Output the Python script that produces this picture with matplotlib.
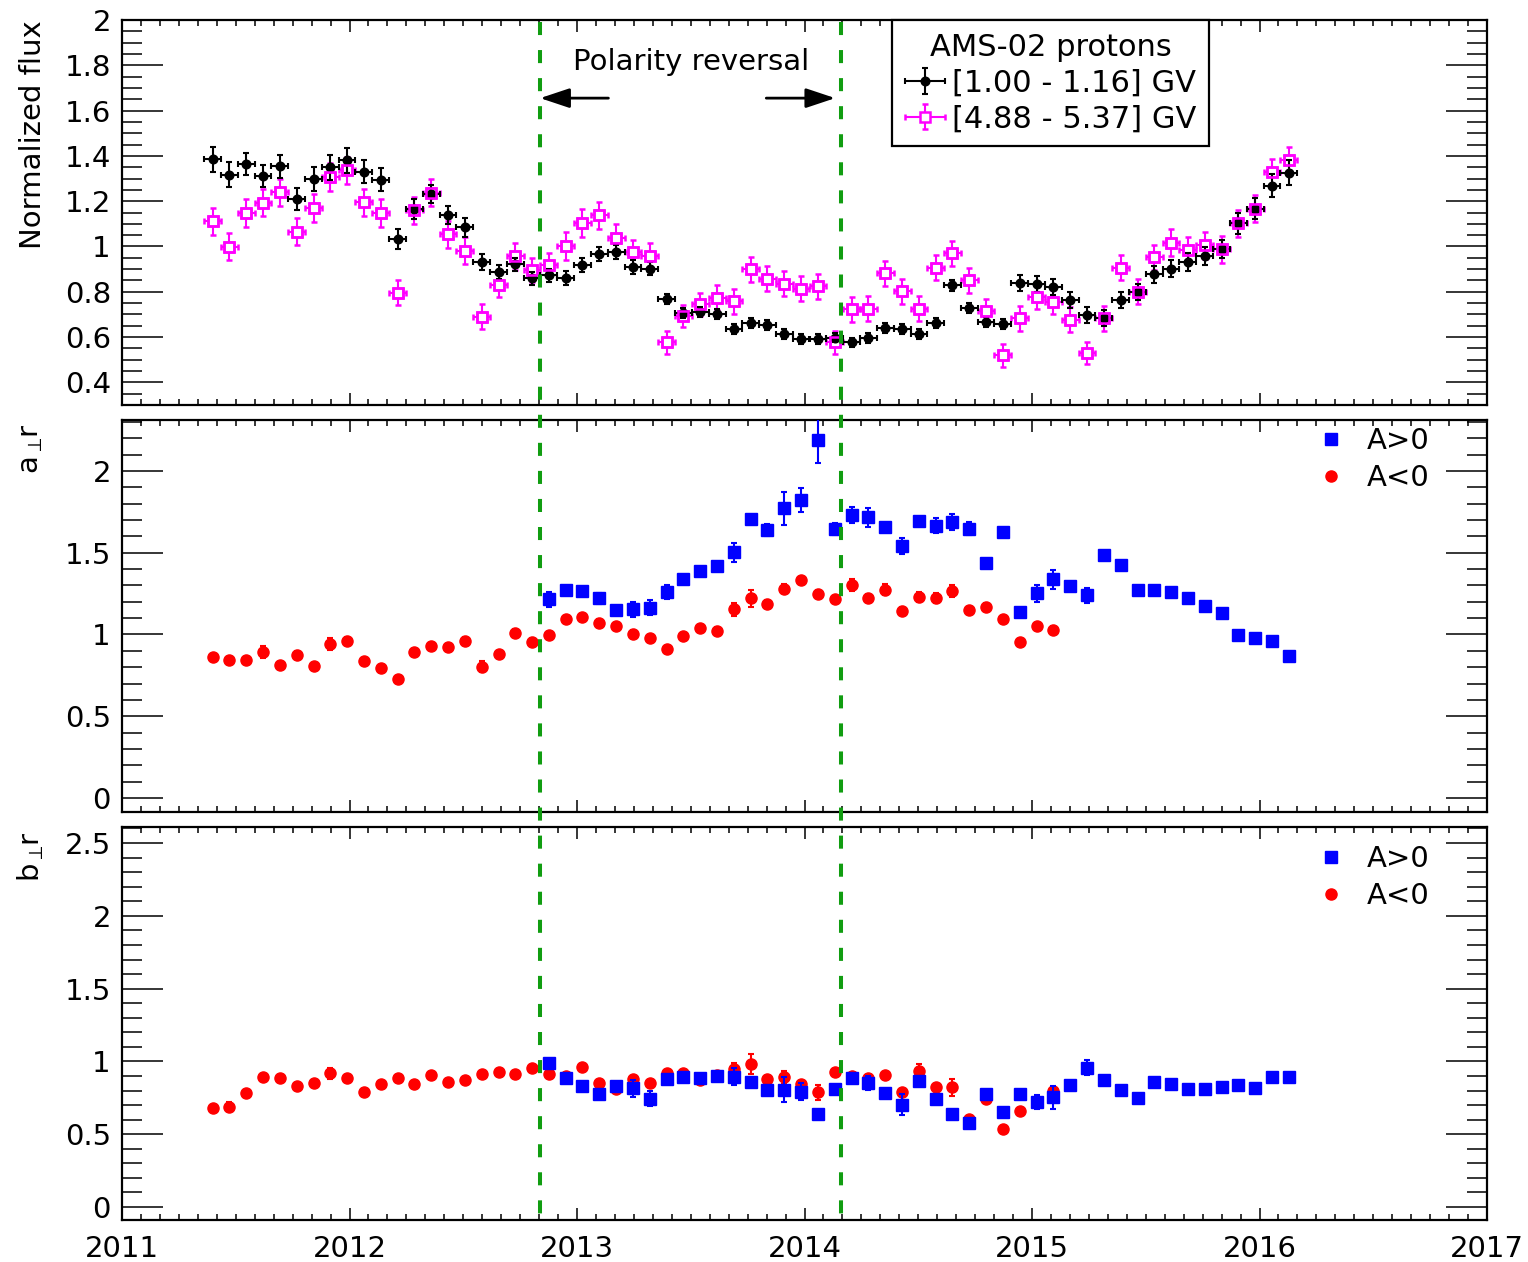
import matplotlib
matplotlib.use('Agg')
import matplotlib.pyplot as plt
from matplotlib.ticker import MultipleLocator, FuncFormatter
from matplotlib.legend_handler import HandlerErrorbar
from matplotlib.container import ErrorbarContainer
from matplotlib.transforms import blended_transform_factory
from matplotlib.lines import Line2D

plt.rcParams['font.family'] = ['DejaVu Sans']
plt.rcParams['mathtext.fontset'] = 'dejavusans'
plt.rcParams['lines.scale_dashes'] = False

# ---------------- data ----------------
# Bartels-rotation mid times (decimal year)
time = [2011.398, 2011.472, 2011.546, 2011.620, 2011.694, 2011.768, 2011.842, 2011.915,
        2011.989, 2012.063, 2012.137, 2012.211, 2012.285, 2012.359, 2012.433, 2012.507,
        2012.581, 2012.655, 2012.729, 2012.802, 2012.876, 2012.950, 2013.024, 2013.098,
        2013.172, 2013.246, 2013.320, 2013.394, 2013.468, 2013.542, 2013.616, 2013.690,
        2013.763, 2013.837, 2013.911, 2013.985, 2014.059, 2014.133, 2014.207, 2014.281,
        2014.355, 2014.429, 2014.503, 2014.577, 2014.650, 2014.724, 2014.798, 2014.872,
        2014.946, 2015.020, 2015.094, 2015.168, 2015.242, 2015.316, 2015.390, 2015.464,
        2015.538, 2015.611, 2015.685, 2015.759, 2015.833, 2015.907, 2015.981, 2016.055,
        2016.129]
bin_half_width = 13.5 / 365.25  # half of a 27-day Bartels rotation, in years

flux_low = [1.386, 1.317, 1.364, 1.311, 1.354, 1.210, 1.298, 1.349, 1.380, 1.330,
            1.295, 1.034, 1.166, 1.233, 1.138, 1.084, 0.933, 0.887, 0.921, 0.859,
            0.872, 0.862, 0.918, 0.968, 0.975, 0.909, 0.902, 0.770, 0.708, 0.711,
            0.700, 0.637, 0.664, 0.653, 0.612, 0.590, 0.590, 0.598, 0.576, 0.595,
            0.642, 0.634, 0.612, 0.664, 0.828, 0.730, 0.667, 0.659, 0.837, 0.833,
            0.821, 0.764, 0.698, 0.683, 0.764, 0.800, 0.877, 0.902, 0.931, 0.957,
            0.987, 1.102, 1.167, 1.269, 1.325]
flux_low_err = [0.055, 0.055, 0.050, 0.050, 0.050, 0.050, 0.055, 0.055, 0.055, 0.050,
                0.050, 0.045, 0.045, 0.040, 0.040, 0.040, 0.035, 0.030, 0.030, 0.030,
                0.030, 0.030, 0.030, 0.030, 0.030, 0.030, 0.030, 0.022, 0.022, 0.022,
                0.022, 0.022, 0.022, 0.022, 0.022, 0.022, 0.022, 0.022, 0.022, 0.022,
                0.022, 0.022, 0.022, 0.022, 0.025, 0.022, 0.022, 0.022, 0.035, 0.035,
                0.035, 0.035, 0.035, 0.035, 0.035, 0.035, 0.038, 0.038, 0.040, 0.040,
                0.040, 0.045, 0.045, 0.050, 0.055]
flux_high = [1.111, 0.999, 1.148, 1.193, 1.240, 1.065, 1.170, 1.307, 1.336, 1.195,
             1.148, 0.796, 1.160, 1.237, 1.053, 0.982, 0.689, 0.831, 0.957, 0.896,
             0.918, 1.002, 1.104, 1.137, 1.038, 0.975, 0.960, 0.576, 0.693, 0.745,
             0.774, 0.759, 0.899, 0.858, 0.836, 0.814, 0.825, 0.576, 0.722, 0.726,
             0.881, 0.803, 0.726, 0.906, 0.969, 0.851, 0.715, 0.520, 0.682, 0.777,
             0.755, 0.676, 0.529, 0.683, 0.906, 0.800, 0.953, 1.016, 0.984, 1.006,
             0.987, 1.102, 1.167, 1.327, 1.380]
flux_high_err = [0.060, 0.060, 0.060, 0.060, 0.060, 0.060, 0.060, 0.060, 0.060, 0.060,
                 0.060, 0.055, 0.060, 0.060, 0.060, 0.060, 0.055, 0.055, 0.060, 0.055,
                 0.055, 0.060, 0.060, 0.060, 0.060, 0.055, 0.055, 0.050, 0.050, 0.050,
                 0.055, 0.055, 0.055, 0.055, 0.055, 0.055, 0.055, 0.050, 0.055, 0.055,
                 0.055, 0.055, 0.055, 0.055, 0.055, 0.055, 0.055, 0.050, 0.055, 0.055,
                 0.055, 0.055, 0.050, 0.055, 0.055, 0.055, 0.055, 0.060, 0.060, 0.060,
                 0.060, 0.060, 0.060, 0.060, 0.060]

# a_perp_r : A<0 for rotations 0..50, A>0 for rotations 20..64
a_neg = [0.862, 0.841, 0.844, 0.894, 0.813, 0.875, 0.807, 0.942, 0.962, 0.835,
         0.793, 0.725, 0.891, 0.930, 0.924, 0.962, 0.804, 0.878, 1.011, 0.956,
         0.997, 1.092, 1.107, 1.072, 1.050, 1.005, 0.979, 0.911, 0.992, 1.040,
         1.024, 1.153, 1.221, 1.188, 1.281, 1.334, 1.250, 1.217, 1.303, 1.226,
         1.275, 1.146, 1.229, 1.223, 1.266, 1.150, 1.171, 1.093, 0.953, 1.053,
         1.029]
a_neg_err = [0.020, 0.020, 0.020, 0.035, 0.020, 0.025, 0.020, 0.035, 0.020, 0.020,
             0.020, 0.020, 0.020, 0.020, 0.020, 0.020, 0.035, 0.020, 0.020, 0.020,
             0.020, 0.020, 0.020, 0.020, 0.020, 0.020, 0.020, 0.020, 0.020, 0.020,
             0.020, 0.040, 0.050, 0.020, 0.030, 0.020, 0.020, 0.020, 0.035, 0.020,
             0.035, 0.020, 0.030, 0.030, 0.035, 0.020, 0.020, 0.020, 0.020, 0.020,
             0.020]
a_pos = [1.214, 1.275, 1.264, 1.221, 1.150, 1.153, 1.164, 1.261, 1.339, 1.388,
         1.419, 1.502, 1.706, 1.639, 1.771, 1.820, 2.190, 1.645, 1.733, 1.716,
         1.659, 1.541, 1.696, 1.666, 1.686, 1.648, 1.439, 1.629, 1.140, 1.252,
         1.339, 1.294, 1.239, 1.486, 1.425, 1.269, 1.269, 1.261, 1.224, 1.175,
         1.131, 0.995, 0.977, 0.960, 0.870]
a_pos_err = [0.048, 0.020, 0.020, 0.035, 0.020, 0.046, 0.046, 0.044, 0.020, 0.020,
             0.020, 0.056, 0.020, 0.037, 0.100, 0.073, 0.140, 0.038, 0.049, 0.056,
             0.020, 0.049, 0.020, 0.048, 0.048, 0.038, 0.020, 0.020, 0.020, 0.053,
             0.058, 0.020, 0.048, 0.020, 0.020, 0.020, 0.020, 0.020, 0.020, 0.020,
             0.020, 0.020, 0.020, 0.020, 0.020]

# b_perp_r
b_neg = [0.678, 0.689, 0.781, 0.895, 0.888, 0.831, 0.849, 0.918, 0.884, 0.788,
         0.842, 0.884, 0.845, 0.907, 0.861, 0.872, 0.913, 0.929, 0.911, 0.955,
         0.913, 0.900, 0.964, 0.849, 0.808, 0.879, 0.849, 0.918, 0.922, 0.872,
         0.907, 0.948, 0.982, 0.877, 0.890, 0.845, 0.788, 0.929, 0.900, 0.888,
         0.904, 0.788, 0.936, 0.822, 0.822, 0.602, 0.740, 0.533, 0.661, 0.720,
         0.797]
b_neg_err = [0.020, 0.030, 0.020, 0.020, 0.020, 0.020, 0.020, 0.040, 0.020, 0.020,
             0.020, 0.020, 0.020, 0.020, 0.020, 0.020, 0.020, 0.020, 0.020, 0.020,
             0.020, 0.020, 0.020, 0.020, 0.020, 0.020, 0.020, 0.020, 0.020, 0.020,
             0.020, 0.040, 0.070, 0.020, 0.046, 0.020, 0.050, 0.020, 0.020, 0.020,
             0.020, 0.020, 0.048, 0.020, 0.060, 0.020, 0.020, 0.020, 0.020, 0.020,
             0.030]
b_pos = [0.987, 0.884, 0.833, 0.776, 0.831, 0.815, 0.744, 0.877, 0.895, 0.884,
         0.900, 0.895, 0.861, 0.804, 0.804, 0.792, 0.639, 0.808, 0.884, 0.849,
         0.781, 0.701, 0.868, 0.742, 0.639, 0.575, 0.776, 0.652, 0.774, 0.719,
         0.753, 0.838, 0.957, 0.872, 0.804, 0.746, 0.861, 0.845, 0.810, 0.812,
         0.826, 0.840, 0.820, 0.895, 0.890]
b_pos_err = [0.030, 0.020, 0.020, 0.020, 0.020, 0.057, 0.050, 0.030, 0.020, 0.020,
             0.020, 0.057, 0.020, 0.020, 0.086, 0.060, 0.020, 0.020, 0.020, 0.048,
             0.020, 0.072, 0.020, 0.020, 0.020, 0.020, 0.020, 0.020, 0.020, 0.048,
             0.077, 0.020, 0.050, 0.020, 0.020, 0.020, 0.020, 0.020, 0.020, 0.020,
             0.020, 0.020, 0.020, 0.020, 0.020]

neg_first, neg_last = 0, 51      # A<0 rotations
pos_first, pos_last = 20, 65     # A>0 rotations
reversal = [2012.838, 2014.162]  # polarity reversal period
year_ticks = [2011, 2012, 2013, 2014, 2015, 2016, 2017]

# ---------------- layout ----------------
W, H = 1528, 1262
fig = plt.figure(figsize=(W / 100, H / 100), dpi=100)
fig.patch.set_facecolor('white')


def fx(px):
    return px / W


def fy(py):
    return 1 - py / H


L, R = 122, 1487
ax1 = fig.add_axes([fx(L), fy(405), (R - L) / W, (405 - 20) / H])
ax2 = fig.add_axes([fx(L), fy(812), (R - L) / W, (812 - 420) / H])
ax3 = fig.add_axes([fx(L), fy(1220), (R - L) / W, (1220 - 827) / H])

FS = 21
MAG = '#ff00ff'
GREEN = '#119d11'
fmt = FuncFormatter(lambda v, p: '%g' % round(v, 6))

for ax in (ax1, ax2, ax3):
    ax.set_xlim(year_ticks[0], year_ticks[-1])
    ax.xaxis.set_major_locator(MultipleLocator(1))
    ax.xaxis.set_minor_locator(MultipleLocator(1 / 12))
    ax.yaxis.set_major_formatter(fmt)
    ax.xaxis.set_major_formatter(FuncFormatter(lambda v, p: '%d' % round(v)))
    ax.tick_params(which='both', direction='in', top=True, right=True,
                   labelsize=FS, width=1.1, colors='black')
    ax.tick_params(axis='y', which='major', length=29.5, pad=8)
    ax.tick_params(axis='y', which='minor', length=14.5)
    ax.tick_params(axis='x', which='major', length=8.3, pad=11)
    ax.tick_params(axis='x', which='minor', length=4.2)
    for s in ax.spines.values():
        s.set_linewidth(1.6)

ax1.tick_params(axis='x', labelbottom=False)
ax2.tick_params(axis='x', labelbottom=False)

ax1.set_ylim(0.30, 2.0)
ax1.yaxis.set_major_locator(MultipleLocator(0.2))
ax1.yaxis.set_minor_locator(MultipleLocator(0.05))
ax2.set_ylim(-0.086, 2.312)
ax2.yaxis.set_major_locator(MultipleLocator(0.5))
ax2.yaxis.set_minor_locator(MultipleLocator(0.1))
ax3.set_ylim(-0.089, 2.61)
ax3.yaxis.set_major_locator(MultipleLocator(0.5))
ax3.yaxis.set_minor_locator(MultipleLocator(0.1))

# ---------------- top panel ----------------
# high-rigidity series: error bars + white-filled squares underneath, outline on top
eb_high = ax1.errorbar(time, flux_high, xerr=bin_half_width, yerr=flux_high_err, fmt='s',
                       color=MAG, mfc='white', mec=MAG, ms=7.5, mew=1.8,
                       elinewidth=1.5, capsize=2.5, capthick=1.5, zorder=2)
eb_low = ax1.errorbar(time, flux_low, xerr=bin_half_width, yerr=flux_low_err, fmt='o',
                      color='black', ms=6.2, elinewidth=1.5, capsize=2.5, capthick=1.5, zorder=3)
ax1.plot(time, flux_high, 's', mfc='none', mec=MAG, ms=7.5, mew=1.8, zorder=4)

LFS = 22
leg = ax1.legend(handles=[eb_low, eb_high],
                 labels=['[1.00 - 1.16] GV', '[4.88 - 5.37] GV'],
                 title='AMS-02 protons', loc='upper left',
                 bbox_to_anchor=(fx(892), fy(20)), bbox_transform=fig.transFigure,
                 borderaxespad=0, fontsize=LFS, title_fontsize=LFS, frameon=True,
                 fancybox=False, edgecolor='black', framealpha=1,
                 handlelength=1.3, handletextpad=0.25, borderpad=0.42,
                 labelspacing=0.22,
                 handler_map={ErrorbarContainer: HandlerErrorbar(xerr_size=0.65, yerr_size=0.42)})
leg.get_frame().set_linewidth(1.6)

ax1.text(0.5 * (reversal[0] + reversal[1]), 1.814, 'Polarity reversal',
         ha='center', va='center', fontsize=FS)
arrow_style = dict(arrowstyle='-|>,head_length=0.9,head_width=0.3', color='black',
                   lw=2, mutation_scale=20, shrinkA=0, shrinkB=0)
ax1.annotate('', xy=(reversal[0], 1.655), xytext=(reversal[0] + 0.30, 1.655),
             arrowprops=arrow_style)
ax1.annotate('', xy=(reversal[1] - 0.027, 1.655), xytext=(reversal[1] - 0.33, 1.655),
             arrowprops=arrow_style)

# ---------------- middle and bottom panels ----------------
t_neg = time[neg_first:neg_last]
t_pos = time[pos_first:pos_last]

for ax, neg, neg_e, pos, pos_e, leg_top in ((ax2, a_neg, a_neg_err, a_pos, a_pos_err, 427),
                                            (ax3, b_neg, b_neg_err, b_pos, b_pos_err, 845)):
    e_neg = ax.errorbar(t_neg, neg, yerr=neg_e, fmt='o', color='#ff0000', ms=8,
                        elinewidth=1.5, capsize=2.5, capthick=1.5, zorder=3)
    e_pos = ax.errorbar(t_pos, pos, yerr=pos_e, fmt='s', color='#0000ff', ms=8,
                        elinewidth=1.5, capsize=2.5, capthick=1.5, zorder=4)
    ax.legend(handles=[e_pos[0], e_neg[0]], labels=['A>0', 'A<0'], loc='upper left',
              bbox_to_anchor=(fx(1316), fy(leg_top)), bbox_transform=fig.transFigure,
              borderaxespad=0, borderpad=0, frameon=False, fontsize=FS,
              handlelength=1.0, handletextpad=0.75, labelspacing=0.32, numpoints=1)

# ---------------- labels ----------------
fig.text(fx(33), fy(20), 'Normalized flux', rotation=90, ha='center', va='top', fontsize=FS)
fig.text(fx(31), fy(424), r'a$_{\perp}\!$r', rotation=90, ha='center', va='top', fontsize=FS)
fig.text(fx(31), fy(831), r'b$_{\perp}\!$r', rotation=90, ha='center', va='top', fontsize=FS)

# ---------------- polarity reversal lines across all panels ----------------
tr = blended_transform_factory(ax1.transData, fig.transFigure)
for xr in reversal:
    fig.add_artist(Line2D([xr, xr], [fy(22), fy(1220)], transform=tr, color=GREEN,
                          lw=2.9, dashes=(9.4, 10.8), zorder=5))

fig.savefig('out.png', dpi=100)
